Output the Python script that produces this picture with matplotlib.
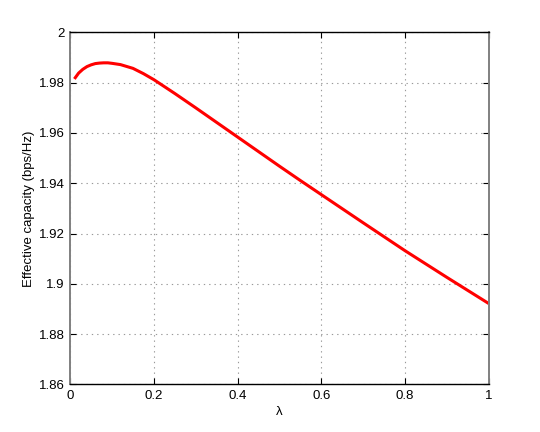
import matplotlib
matplotlib.use("Agg")
import matplotlib.pyplot as plt
import numpy as np

# Data
lam = [0.01, 0.02, 0.03, 0.04, 0.05, 0.06, 0.07, 0.08, 0.09, 0.10, 0.12, 0.15,
       0.175, 0.20, 0.25, 0.30, 0.35, 0.40, 0.45, 0.50, 0.55, 0.60, 0.70,
       0.80, 0.90, 1.00]
capacity = [1.9815, 1.9838, 1.9853, 1.9864, 1.9871, 1.9876, 1.9878, 1.9879, 1.9879,
            1.9877, 1.9872, 1.9857, 1.9836, 1.9812, 1.9757, 1.9700, 1.9642,
            1.9584, 1.9526, 1.9468, 1.9411, 1.9355, 1.9243, 1.9132, 1.9026, 1.8922]
xticks = [0, 0.2, 0.4, 0.6, 0.8, 1]
xticklabels = ["0", "0.2", "0.4", "0.6", "0.8", "1"]
yticks = [1.86, 1.88, 1.90, 1.92, 1.94, 1.96, 1.98, 2.00]
yticklabels = ["1.86", "1.88", "1.9", "1.92", "1.94", "1.96", "1.98", "2"]

plt.rcParams['font.family'] = ['Liberation Sans', 'DejaVu Sans']

fig = plt.figure(figsize=(5.4, 4.32), dpi=100)
ax = fig.add_axes([0.13, 0.11, 0.775, 0.815])

ax.plot(lam, capacity, color=(1, 0, 0), linewidth=2.2,
        solid_joinstyle='round', solid_capstyle='butt')

ax.set_xlim(0, 1)
ax.set_ylim(1.86, 2.0)
ax.set_xticks(xticks)
ax.set_xticklabels(xticklabels)
ax.set_yticks(yticks)
ax.set_yticklabels(yticklabels)

ax.grid(True, color='0.6', linestyle=(0, (1.2, 3.6)), linewidth=0.8)
ax.tick_params(direction='in', length=4, width=0.8, top=True, right=True,
               labelsize=9.5, pad=4, colors='black')
for side in ['top', 'bottom']:
    ax.spines[side].set_color('black')
    ax.spines[side].set_linewidth(1.0)
for side in ['left', 'right']:
    ax.spines[side].set_color('0.5')
    ax.spines[side].set_linewidth(1.4)

ax.set_xlabel('λ', fontsize=9.5, labelpad=3)
ax.set_ylabel('Effective capacity (bps/Hz)', fontsize=9.5, labelpad=3)

fig.savefig('out.png', dpi=100)
